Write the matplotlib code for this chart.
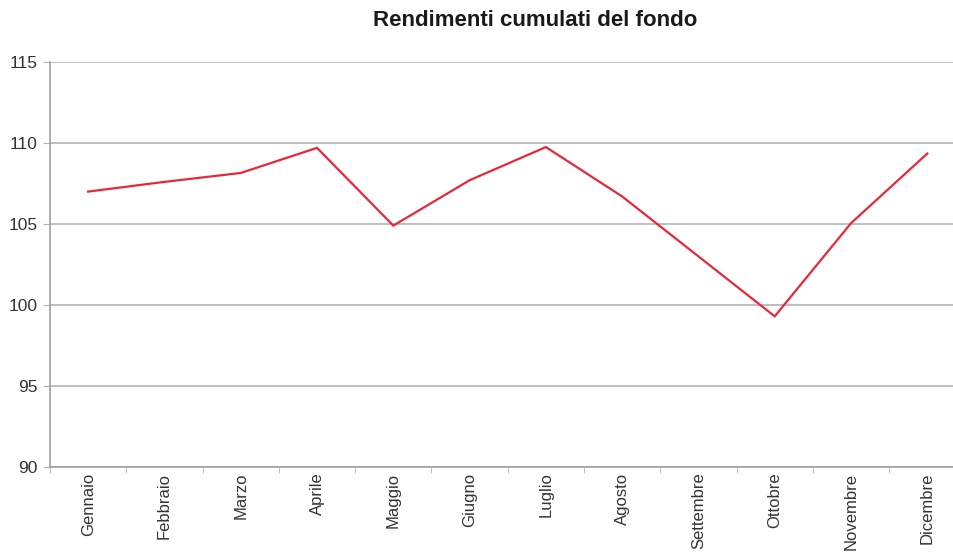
import matplotlib
matplotlib.use("Agg")
import matplotlib.pyplot as plt
import numpy as np

months = ["Gennaio", "Febbraio", "Marzo", "Aprile", "Maggio", "Giugno",
          "Luglio", "Agosto", "Settembre", "Ottobre", "Novembre", "Dicembre"]
values = [107.0, 107.6, 108.15, 109.7, 104.9, 107.7,
          109.75, 106.7, 103.0, 99.3, 105.05, 109.35]
yticks = [90, 95, 100, 105, 110, 115]

plt.rcParams['font.family'] = ['Liberation Sans', 'DejaVu Sans']

fig = plt.figure(figsize=(9.54, 5.53), dpi=100)
ax = fig.add_axes([50/954, 1-467/553, 1-50/954, (467-62)/553])

x = np.arange(len(months))
ax.plot(x, values, color='#e8283a', lw=1.6, solid_joinstyle='miter')

ax.set_ylim(90, 115)
ax.set_yticks(yticks)
ax.set_yticklabels([str(v) for v in yticks], fontsize=12.5, color='#333333')
ax.yaxis.grid(True, color='#b4b4b4', lw=1.2)
ax.set_axisbelow(True)

ax.set_xlim(-0.5, 11.35)
ax.set_xticks(x)
ax.set_xticklabels(months, rotation=90, fontsize=12, color='#333333')
ax.tick_params(axis='x', which='major', length=0, pad=4)
ax.set_xticks(np.arange(-0.5, 11.5, 1.0), minor=True)
ax.tick_params(axis='x', which='minor', length=4, color='#b4b4b4', direction='out')
ax.tick_params(axis='y', length=5, color='#b4b4b4', pad=4)

for s in ['top', 'right']:
    ax.spines[s].set_visible(False)
for s in ['left', 'bottom']:
    ax.spines[s].set_color('#a0a0a0')
    ax.spines[s].set_linewidth(1.2)

fig.text(535/954, 1-21/553, "Rendimenti cumulati del fondo", ha='center', va='center',
         fontsize=16, fontweight='bold', color='#1a1a1a')

fig.savefig("out.png", dpi=100)
